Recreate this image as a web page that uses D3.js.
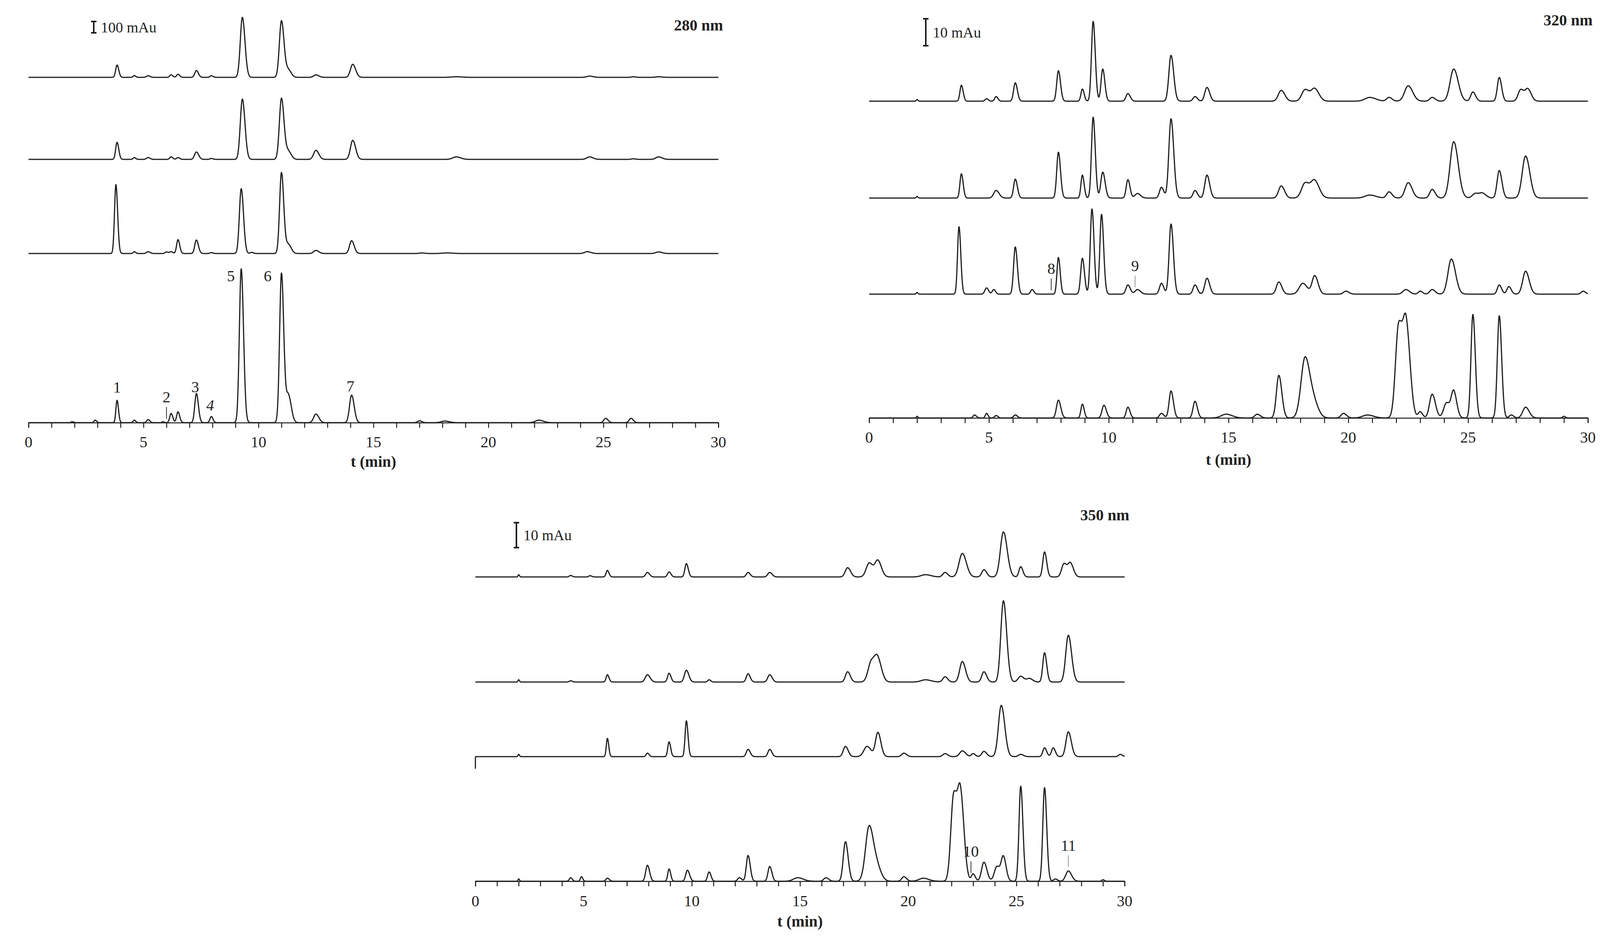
<!DOCTYPE html>
<html>
<head>
<meta charset="utf-8">
<script src="https://cdn.jsdelivr.net/npm/d3@7"></script>
<style>
  body { margin: 0; background: #fff; }
  text { font-family: "Liberation Serif", "DejaVu Serif", serif; fill: #222; }
</style>
</head>
<body>
<svg id="chart" width="4118" height="2409"></svg>
<script>
// peaks: [retention time (min), height (mAu), width sigma (min)]
var p280_a = [[3.85,108,.06],[4.6,16,.05],[5.2,14,.07],[6.2,22,.06],[6.5,27,.06],[7.3,60,.07],[7.95,14,.06],[9.3,530,.09],[11.0,500,.09],[11.3,65,.1],[12.5,22,.1],[14.1,115,.1],[18.6,5,.2],[24.4,11,.12],[26.3,5,.08],[27.4,5,.12]];
var p280_b = [[3.85,150,.06],[4.6,16,.05],[5.2,16,.07],[6.2,22,.06],[6.5,16,.06],[7.3,65,.08],[7.95,8,.06],[9.3,532,.09],[11.0,540,.09],[11.3,70,.1],[12.5,80,.1],[14.1,168,.1],[18.6,22,.15],[24.4,22,.12],[26.3,5,.08],[27.4,22,.12]];
var p280_c = [[3.8,608,.06],[4.6,16,.05],[5.2,16,.07],[6.0,14,.06],[6.2,16,.06],[6.5,122,.06],[7.3,119,.07],[7.95,8,.06],[9.25,572,.08],[9.7,10,.06],[11.0,715,.08],[11.3,80,.1],[12.5,27,.1],[14.05,113,.09],[17.1,5,.1],[18.2,5,.2],[24.3,16,.12],[27.4,14,.12]];
var p280_d = [[1.9,8,.05],[2.9,22,.05],[3.85,197,.05],[4.6,22,.05],[5.2,27,.06],[5.85,8,.04],[6.2,81,.06],[6.5,95,.06],[7.3,257,.07],[7.95,54,.06],[9.25,1358,.08],[11.0,1318,.08],[11.3,243,.1],[12.5,76,.1],[14.05,243,.09],[17.0,16,.08],[18.1,14,.15],[22.2,22,.15],[25.1,38,.08],[26.2,38,.08]];

var p320_a = [[2.0,.6,.03],[3.85,5.9,.06],[4.9,.9,.06],[5.3,1.7,.06],[6.1,6.8,.07],[7.9,11.3,.07],[8.9,4.5,.06],[9.35,29.6,.07],[9.75,11.9,.07],[10.8,2.8,.08],[12.6,17,.09],[13.6,1.7,.08],[14.1,5.1,.09],[17.2,4,.12],[18.2,4.3,.14],[18.6,4.5,.14],[20.9,1.4,.2],[21.7,1.4,.1],[22.5,5.7,.15],[23.5,1.4,.1],[24.4,11.9,.15],[25.2,3.4,.09],[26.3,8.8,.08],[27.2,4.3,.11],[27.5,4.3,.11]];
var p320_b = [[2.0,.6,.03],[3.85,9,.06],[5.3,2.8,.1],[6.1,7,.07],[7.9,17,.07],[8.9,8.5,.06],[9.35,30,.07],[9.75,9.6,.08],[10.8,6.8,.07],[11.2,1.7,.1],[12.2,4,.08],[12.6,29.4,.09],[13.6,2.8,.08],[14.1,8.5,.09],[17.2,4.5,.11],[18.2,5.6,.15],[18.6,6.2,.15],[20.9,1.1,.2],[21.7,2.3,.1],[22.5,5.7,.13],[23.5,3.2,.1],[24.4,20.9,.15],[25.3,1.7,.12],[25.6,1.7,.12],[26.3,10.2,.09],[27.4,15.6,.14]];
var p320_c = [[2.0,.6,.03],[3.75,25,.06],[4.9,2.3,.07],[5.2,1.7,.06],[6.1,17.5,.07],[6.8,1.7,.06],[7.9,13.6,.06],[8.9,13.3,.07],[9.3,31.6,.07],[9.7,29.6,.07],[10.8,3.4,.08],[11.2,1.7,.1],[12.2,4,.08],[12.6,26,.08],[13.6,3.4,.08],[14.1,5.9,.09],[17.1,4.5,.1],[18.1,4,.15],[18.6,6.8,.11],[19.9,1.1,.1],[22.4,1.7,.12],[23.0,1.1,.08],[23.5,1.7,.1],[24.3,13,.14],[26.3,3.4,.08],[26.7,2.8,.08],[27.4,8.5,.12],[29.8,1.1,.08]];
var p320_d = [[2.0,.6,.03],[4.4,1.1,.06],[4.9,1.7,.05],[5.3,.9,.06],[6.1,1.1,.07],[7.9,6.6,.08],[8.9,5.1,.06],[9.8,4.7,.08],[10.8,4,.07],[12.2,1.7,.08],[12.6,10,.08],[13.6,6.2,.08],[14.9,1.4,.2],[16.2,1.4,.1],[17.1,15.8,.1],[18.2,22.6,.17],[18.6,4,.15],[19.8,1.7,.1],[20.8,1.1,.2],[22.1,34,.13],[22.42,32.7,.13],[23.0,2.3,.08],[23.5,8.8,.11],[24.1,5.6,.12],[24.4,9.6,.1],[25.2,38.4,.08],[26.3,37.9,.08],[26.8,1.1,.08],[27.4,4,.12],[29.0,.6,.05]];

var p350_a = [[2.0,.9,.03],[4.4,.6,.06],[5.3,.5,.06],[6.1,2.6,.06],[7.95,1.8,.08],[8.95,2,.07],[9.75,5.3,.07],[12.6,1.8,.08],[13.6,1.8,.09],[17.2,3.7,.11],[18.2,5.6,.14],[18.6,6.4,.13],[20.8,.9,.2],[21.7,1.8,.1],[22.5,9.4,.15],[23.5,2.9,.1],[24.4,18,.14],[25.2,4.1,.08],[26.3,10,.08],[27.2,5.3,.11],[27.5,5.3,.11]];
var p350_b = [[2.0,.9,.03],[4.4,.5,.06],[6.1,2.9,.06],[7.95,2.9,.1],[8.95,3.5,.07],[9.75,4.7,.09],[10.8,.9,.06],[12.6,3.3,.08],[13.6,2.9,.09],[17.2,4.1,.1],[18.3,8.2,.15],[18.6,8.2,.14],[20.8,.9,.2],[21.7,2.1,.1],[22.5,8.2,.12],[23.5,4.1,.1],[24.4,32.5,.12],[25.2,2.3,.12],[25.6,1.4,.12],[26.3,11.7,.08],[27.4,18.7,.12]];
var p350_c = [[2.0,.9,.03],[6.1,7.3,.05],[7.95,1.4,.06],[8.95,5.9,.06],[9.75,14.3,.06],[12.6,2.9,.08],[13.6,2.9,.08],[17.1,4.1,.1],[18.1,4.1,.15],[18.6,9.6,.11],[19.8,1.4,.1],[21.7,1.2,.1],[22.5,2.3,.12],[23.0,1.2,.08],[23.5,2.1,.1],[24.3,20.5,.13],[25.2,.9,.1],[26.3,3.5,.08],[26.7,3.5,.08],[27.4,9.9,.11],[29.8,.9,.08]];
var p350_d = [[2.0,.9,.03],[4.4,1.4,.06],[4.9,1.8,.05],[6.1,1.2,.07],[7.95,6.4,.08],[8.95,4.9,.06],[9.8,4.4,.08],[10.8,3.7,.07],[12.2,1.4,.08],[12.6,10.3,.08],[13.6,5.9,.08],[14.9,1.4,.2],[16.2,1.4,.1],[17.1,15.8,.1],[18.2,22.2,.17],[18.6,4,.15],[19.8,1.8,.1],[20.7,1.2,.2],[22.1,34,.13],[22.42,33.2,.13],[23.0,2.9,.08],[23.5,7.6,.11],[24.1,5.9,.12],[24.4,9.4,.1],[25.2,38,.08],[26.3,37.4,.08],[26.8,.9,.08],[27.4,4.1,.12],[29.0,.6,.05]];

var xTicks = [0, 5, 10, 15, 20, 25, 30];

var panels = [
  { title: '280 nm', bar: '100 mAu', barVal: 100, pxPerUnit: 0.29, x0: 73, x1: 1839,
    baselines: [198, 408, 649, 1082], traces: [p280_a, p280_b, p280_c, p280_d],
    barX: 240, barY: 55, titleY: 78, labelY: 1145, axisTitleY: 1195,
    labels: [[3.85, '1', 3], [6.0, '2', 3], [7.25, '3', 3], [7.9, '4', 3], [8.8, '5', 3], [10.4, '6', 3], [14.0, '7', 3]] },
  { title: '320 nm', bar: '10 mAu', barVal: 10, pxPerUnit: 6.9, x0: 2225, x1: 4065,
    baselines: [259, 507, 753, 1070], traces: [p320_a, p320_b, p320_c, p320_d],
    barX: 2370, barY: 48, titleY: 65, labelY: 1133, axisTitleY: 1190,
    labels: [[7.6, '8', 2], [11.1, '9', 2]] },
  { title: '350 nm', bar: '10 mAu', barVal: 10, pxPerUnit: 6.4, x0: 1217, x1: 2879,
    baselines: [1477, 1746, 1937, 2256], traces: [p350_a, p350_b, p350_c, p350_d],
    barX: 1322, barY: 1338, titleY: 1332, labelY: 2320, axisTitleY: 2372,
    labels: [[22.9, '10', 3], [27.4, '11', 3]] }
];

var svg = d3.select('#chart');

function signal(peaks, t) {
  var s = 0;
  peaks.forEach(function(p) {
    var d = (t - p[0]) / p[2];
    // slight tailing on the right side
    if (d > 0) d = d / 1.25;
    s += p[1] * Math.exp(-0.5 * d * d);
  });
  return s;
}

var times = d3.range(0, 30.0001, 0.005);

panels.forEach(function(pn) {
  var x = d3.scaleLinear().domain([0, 30]).range([pn.x0, pn.x1]);
  var g = svg.append('g');

  pn.traces.forEach(function(peaks, k) {
    var base = pn.baselines[k];
    var y = d3.scaleLinear().domain([0, 1]).range([base, base - pn.pxPerUnit]);
    var line = d3.line()
      .x(function(t) { return x(t); })
      .y(function(t) { return y(signal(peaks, t)); });
    g.append('path')
      .datum(times)
      .attr('d', line)
      .attr('fill', 'none')
      .attr('stroke', '#1e1e1e')
      .attr('stroke-width', 3)
      .attr('stroke-linejoin', 'round');
  });

  // time axis on the bottom trace
  var axisY = pn.baselines[3];
  var axis = d3.axisBottom(x).ticks(30).tickSize(13).tickFormat('');
  g.append('g').attr('transform', 'translate(0,' + axisY + ')').call(axis)
    .call(function(a) {
      a.selectAll('path, line').attr('stroke', '#1e1e1e').attr('stroke-width', 2.5);
    });
  g.selectAll('.tl').data(xTicks).enter().append('text')
    .attr('x', function(d) { return x(d); })
    .attr('y', pn.labelY)
    .attr('text-anchor', 'middle')
    .attr('font-size', 40)
    .text(function(d) { return d; });
  g.append('text')
    .attr('x', x(15)).attr('y', pn.axisTitleY)
    .attr('text-anchor', 'middle')
    .attr('font-size', 40).attr('font-weight', 'bold')
    .text('t (min)');

  // title
  g.append('text')
    .attr('x', pn.x1 + 12).attr('y', pn.titleY)
    .attr('text-anchor', 'end')
    .attr('font-size', 40).attr('font-weight', 'bold')
    .text(pn.title);

  // scale bar
  var bh = pn.barVal * pn.pxPerUnit;
  var bx = pn.barX;
  g.append('path')
    .attr('d', 'M' + (bx - 7) + ',' + pn.barY + 'h14M' + bx + ',' + pn.barY + 'v' + bh + 'M' + (bx - 7) + ',' + (pn.barY + bh) + 'h14')
    .attr('stroke', '#1e1e1e').attr('stroke-width', 4).attr('fill', 'none');
  g.append('text')
    .attr('x', bx + 18).attr('y', pn.barY + bh / 2 + 13)
    .attr('font-size', 38)
    .text(pn.bar);

  // peak labels
  pn.labels.forEach(function(lb) {
    var k = lb[2];
    var base = pn.baselines[k];
    var top = base - signal(pn.traces[k], lb[0]) * pn.pxPerUnit;
    var tx = x(lb[0]);
    var isMain = (lb[1] === '5' || lb[1] === '6');
    var ty = isMain ? base - 362 : top - 20;
    var small = ['2', '8', '9', '10', '11'].indexOf(lb[1]) >= 0;
    if (small) {
      g.append('line')
        .attr('x1', tx).attr('x2', tx)
        .attr('y1', top - 10).attr('y2', top - 40)
        .attr('stroke', lb[1] === '9' || lb[1] === '11' ? '#999' : '#333')
        .attr('stroke-width', 2);
      ty = top - 52;
    }
    g.append('text')
      .attr('x', tx).attr('y', ty)
      .attr('text-anchor', 'middle')
      .attr('font-size', 40)
      .attr('font-style', lb[1] === '4' ? 'italic' : 'normal')
      .text(lb[1]);
  });
});

// small start artefact on third 350 nm trace
svg.append('line')
  .attr('x1', 1217).attr('x2', 1217).attr('y1', 1937).attr('y2', 1968)
  .attr('stroke', '#1e1e1e').attr('stroke-width', 3);
</script>
</body>
</html>
